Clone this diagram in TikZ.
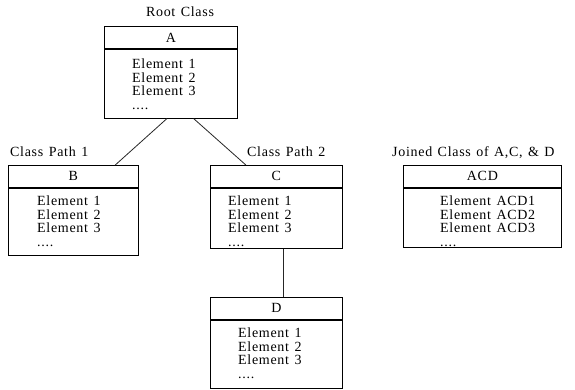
\documentclass[tikz,border=0pt]{standalone}
\usepackage{fontspec}
\setmainfont{Liberation Serif}[LetterSpace=5,WordSpace=1.3]
\usetikzlibrary{calc}

\begin{document}
\begin{tikzpicture}[x=1pt,y=-1pt]
    \tikzstyle{hdr}=[draw=black,line width=0.8pt,anchor=north west,inner sep=0pt,font=\fontsize{14}{13.5}\selectfont]
    \tikzstyle{body}=[draw=black,line width=0.8pt,anchor=north west,inner sep=0pt]
    \tikzstyle{items}=[anchor=north west,inner sep=0pt,align=left,font=\fontsize{14}{13.5}\selectfont]
    \tikzstyle{title}=[inner sep=0pt,font=\fontsize{14}{13.5}\selectfont]
    \tikzstyle{fwd} = [draw=black!85, line width=0.8pt]

    \def\bw{133}
    \def\hh{22}

    \useasboundingbox (0,0) rectangle (575,389);

    % root class
    \node[hdr,minimum width=\bw,minimum height=\hh]  (hA) at (104,26) {A};
    \node[body,minimum width=\bw,minimum height=69]  (bA) at (hA.south west) {};
    \node[items]  (tA) at (132,59) {Element 1\\Element 2\\Element 3\\....};
    \node[title,anchor=base]  (lA) at (180,16) {Root Class};

    % first path
    \node[hdr,minimum width=130,minimum height=\hh]  (hB) at (8,165) {B};
    \node[body,minimum width=130,minimum height=67]  (bB) at (hB.south west) {};
    \node[items]  (tB) at (37,196) {Element 1\\Element 2\\Element 3\\....};
    \node[title,anchor=base west]  (lB) at (10,156) {Class Path 1};

    % second path
    \node[hdr,minimum width=\bw-1,minimum height=\hh]  (hC) at (210,165) {C};
    \node[body,minimum width=\bw-1,minimum height=60]  (bC) at (hC.south west) {};
    \node[items]  (tC) at (228,196) {Element 1\\Element 2\\Element 3\\....};
    \node[title,anchor=base west]  (lC) at (247,156) {Class Path 2};

    \node[hdr,minimum width=\bw-1,minimum height=\hh]  (hD) at (210,297) {D};
    \node[body,minimum width=\bw-1,minimum height=68]  (bD) at (hD.south west) {};
    \node[items]  (tD) at (238,328) {Element 1\\Element 2\\Element 3\\....};

    % joined class
    \node[hdr,minimum width=158,minimum height=\hh]  (hJ) at (403,165) {ACD};
    \node[body,minimum width=158,minimum height=59]  (bJ) at (hJ.south west) {};
    \node[items]  (tJ) at (440,196) {Element ACD1\\Element ACD2\\Element ACD3\\....};
    \node[title,anchor=base west]  (lJ) at (392,156) {Joined Class of A,C, \& D};

   \draw [fwd] ($(bA.south west)!0.47!(bA.south east)$) -- ($(hB.north west)!0.82!(hB.north east)$);
   \draw [fwd] ($(bA.south west)!0.67!(bA.south east)$) -- ($(hC.north west)!0.27!(hC.north east)$);
   \draw [fwd] ($(bC.south west)!0.55!(bC.south east)$) -- ($(hD.north west)!0.55!(hD.north east)$);

\end{tikzpicture}
\end{document}
